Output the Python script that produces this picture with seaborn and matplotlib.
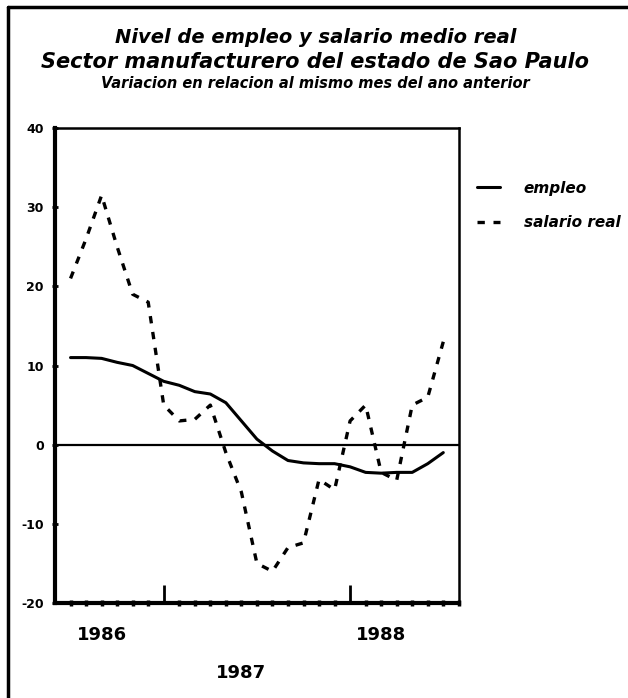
import pandas as pd
import seaborn as sns
import matplotlib.pyplot as plt
from matplotlib.lines import Line2D

# meses desde junio 1986 (0) -> julio 1986 = 1 ... julio 1988 = 25
meses = list(range(1, 26))
empleo = [11.0, 11.0, 10.9, 10.4, 10.0, 9.0, 8.0, 7.5, 6.7, 6.4, 5.3, 3.0, 0.7,
          -0.8, -2.0, -2.3, -2.4, -2.4, -2.8, -3.5, -3.6, -3.5, -3.5, -2.4, -1.0]
salario = [21.0, 26.0, 31.5, 25.0, 19.0, 18.0, 5.0, 3.0, 3.2, 5.0, -1.0, -6.0, -15.0,
           -16.0, -13.0, -12.4, -4.4, -5.7, 3.0, 5.0, -3.5, -4.5, 5.0, 6.0, 13.0]

anos = ['1986', '1987', '1988']
anos_pos = [3, 12, 21]
anos_y = [-0.068, -0.148, -0.068]
yticks = [-20, -10, 0, 10, 20, 30, 40]
meses_inicio = [7, 19]  # enero 1987, enero 1988

df = pd.DataFrame({'mes': meses, 'empleo': empleo, 'salario real': salario})

sns.set_theme(style='white')
plt.rcParams['font.family'] = ['DejaVu Sans']
plt.rcParams['text.color'] = 'black'

fig = plt.figure(figsize=(6.28, 6.98), dpi=100)
ax = fig.add_axes([0.0876, 0.1361, 0.6430, 0.6805])

sns.lineplot(data=df, x='mes', y='empleo', ax=ax, color='black', lw=2.2,
             label='empleo')
sns.lineplot(data=df, x='mes', y='salario real', ax=ax, color='black', lw=2.4,
             linestyle=(0, (2.2, 2.6)), label='salario real')
ax.axhline(0, color='black', lw=1.6, zorder=1)

ax.set_xlim(0, 26)
ax.set_ylim(-20, 40)
ax.set_xlabel('')
ax.set_ylabel('')

# ejes
for s in ['left', 'bottom']:
    ax.spines[s].set_linewidth(3)
for s in ['top', 'right']:
    ax.spines[s].set_linewidth(1.8)
for s in ax.spines.values():
    s.set_color('black')

ax.set_yticks(yticks)
ax.set_yticklabels([str(v) for v in yticks], fontsize=9, fontweight='bold')
ax.tick_params(axis='y', direction='inout', length=4, width=2, pad=6,
               colors='black', left=True)

ax.set_xticks(meses_inicio)
ax.set_xticklabels([])
ax.set_xticks([m for m in range(1, 27) if m not in meses_inicio], minor=True)
ax.tick_params(axis='x', which='major', direction='in', length=13, width=2,
               bottom=True, color='black')
ax.tick_params(axis='x', which='minor', direction='inout', length=5, width=2.5,
               bottom=True, color='black')

for lab, xp, yp in zip(anos, anos_pos, anos_y):
    ax.text(xp, yp, lab, transform=ax.get_xaxis_transform(), ha='center',
            va='center', fontsize=13, fontweight='bold', color='black')

# leyenda
leg = ax.legend(loc='upper left', bbox_to_anchor=(0.737, 0.761),
                bbox_transform=fig.transFigure, frameon=False,
                handlelength=1.5, handletextpad=1.6, labelspacing=1.3,
                prop={'size': 11, 'weight': 'bold', 'style': 'italic'})
for t in leg.get_texts():
    t.set_color('black')

# titulos
fig.text(0.502, 0.9456, 'Nivel de empleo y salario medio real', ha='center',
         va='center', fontsize=14, fontweight='bold', style='italic')
fig.text(0.502, 0.911, 'Sector manufacturero del estado de Sao Paulo', ha='center',
         va='center', fontsize=15, fontweight='bold', style='italic')
fig.text(0.502, 0.8797, 'Variacion en relacion al mismo mes del ano anterior',
         ha='center', va='center', fontsize=10.5, fontweight='bold', style='italic')

# marco de la figura
fig.add_artist(Line2D([0.013, 0.013], [0.0, 0.99], transform=fig.transFigure,
                      color='black', lw=2.5))
fig.add_artist(Line2D([0.013, 1.0], [0.99, 0.99], transform=fig.transFigure,
                      color='black', lw=2.5))

fig.savefig('out.png', dpi=100, facecolor='white')
